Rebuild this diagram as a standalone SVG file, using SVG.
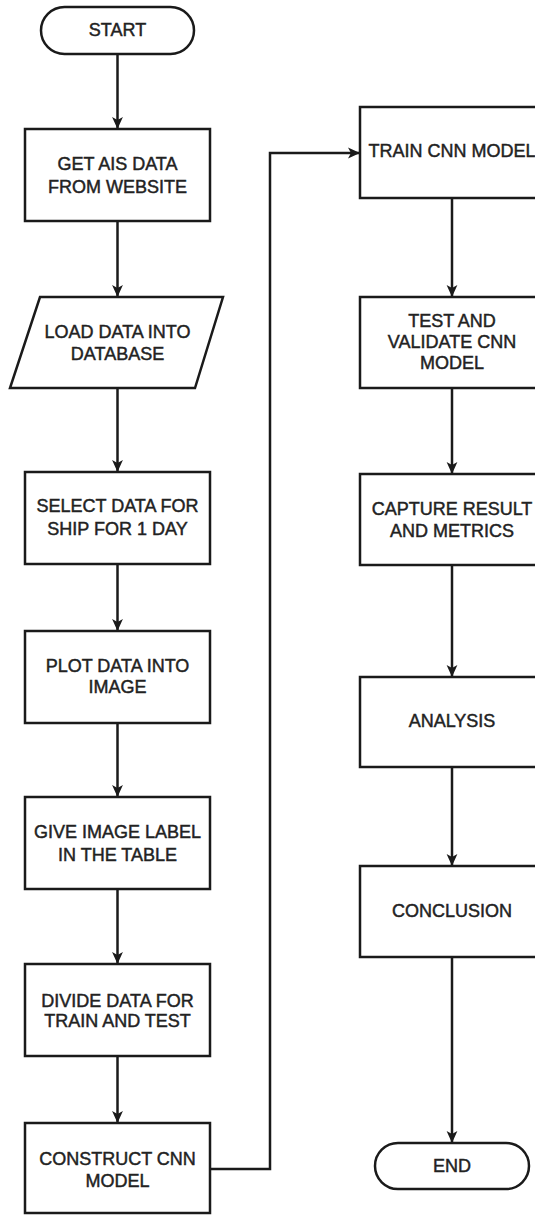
<svg xmlns="http://www.w3.org/2000/svg" width="535" height="1215" viewBox="0 0 535 1215">
<style>
.s{fill:#fff;stroke:#1a1a1a;stroke-width:2.5}
.t{font-family:"Liberation Sans",Arial,sans-serif;font-size:18px;fill:#222;stroke:#222;stroke-width:0.45;text-anchor:middle}
.c{fill:none;stroke:#1a1a1a;stroke-width:2.5;marker-end:url(#ah)}
</style>
<defs>
<marker id="ah" markerUnits="userSpaceOnUse" markerWidth="12" markerHeight="12" viewBox="0 0 10 10" refX="10" refY="5" orient="auto">
<path d="M0,0.5 L10,5 L0,9.5 L2.5,5 z" fill="#1a1a1a"/>
</marker>
</defs>
<rect width="535" height="1215" fill="#fff"/>
<g id="connectors">
<path class="c" d="M117.5,54 V129"/>
<path class="c" d="M117.5,221 V297"/>
<path class="c" d="M117.5,388 V472"/>
<path class="c" d="M117.5,564 V631"/>
<path class="c" d="M117.5,723 V797"/>
<path class="c" d="M117.5,889 V964"/>
<path class="c" d="M117.5,1056 V1123"/>
<path class="c" d="M210,1169 H270 V153 H360"/>
<path class="c" d="M452,198 V297"/>
<path class="c" d="M452,388 V474"/>
<path class="c" d="M452,565 V677"/>
<path class="c" d="M452,767 V866"/>
<path class="c" d="M452,957 V1143"/>
</g>
<g id="start">
<rect class="s" x="41" y="7" width="153" height="47" rx="23.5"/>
<text class="t" x="117.5" y="36">START</text>
</g>
<g id="get-ais">
<rect class="s" x="25" y="129" width="185" height="92"/>
<text class="t" x="117.5" y="170">GET AIS DATA</text>
<text class="t" x="117.5" y="193">FROM WEBSITE</text>
</g>
<g id="load-data">
<polygon class="s" points="40,297 223,297 195,388 10,388"/>
<text class="t" x="117.5" y="338">LOAD DATA INTO</text>
<text class="t" x="117.5" y="360">DATABASE</text>
</g>
<g id="select-data">
<rect class="s" x="25" y="472" width="185" height="92"/>
<text class="t" x="117.5" y="512">SELECT DATA FOR</text>
<text class="t" x="117.5" y="535">SHIP FOR 1 DAY</text>
</g>
<g id="plot-data">
<rect class="s" x="25" y="631" width="185" height="92"/>
<text class="t" x="117.5" y="672">PLOT DATA INTO</text>
<text class="t" x="117.5" y="693">IMAGE</text>
</g>
<g id="give-label">
<rect class="s" x="25" y="797" width="185" height="92"/>
<text class="t" x="117.5" y="838">GIVE IMAGE LABEL</text>
<text class="t" x="117.5" y="861">IN THE TABLE</text>
</g>
<g id="divide-data">
<rect class="s" x="25" y="964" width="185" height="92"/>
<text class="t" x="117.5" y="1007">DIVIDE DATA FOR</text>
<text class="t" x="117.5" y="1027">TRAIN AND TEST</text>
</g>
<g id="construct-cnn">
<rect class="s" x="25" y="1123" width="185" height="90"/>
<text class="t" x="117.5" y="1165">CONSTRUCT CNN</text>
<text class="t" x="117.5" y="1187">MODEL</text>
</g>
<g id="train-cnn">
<rect class="s" x="360" y="107" width="185" height="91"/>
<text class="t" x="452" y="157">TRAIN CNN MODEL</text>
</g>
<g id="test-validate">
<rect class="s" x="360" y="297" width="185" height="91"/>
<text class="t" x="452" y="327">TEST AND</text>
<text class="t" x="452" y="348">VALIDATE CNN</text>
<text class="t" x="452" y="369">MODEL</text>
</g>
<g id="capture-result">
<rect class="s" x="360" y="474" width="185" height="91"/>
<text class="t" x="452" y="515">CAPTURE RESULT</text>
<text class="t" x="452" y="537">AND METRICS</text>
</g>
<g id="analysis">
<rect class="s" x="360" y="677" width="185" height="90"/>
<text class="t" x="452" y="727">ANALYSIS</text>
</g>
<g id="conclusion">
<rect class="s" x="360" y="866" width="185" height="91"/>
<text class="t" x="452" y="917">CONCLUSION</text>
</g>
<g id="end">
<rect class="s" x="375" y="1143" width="154" height="46" rx="23"/>
<text class="t" x="452" y="1172">END</text>
</g>
</svg>
